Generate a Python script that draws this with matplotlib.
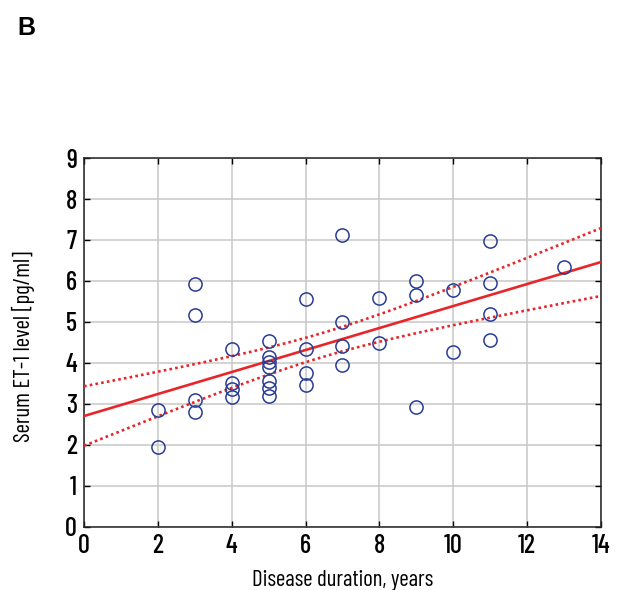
import numpy as np
import matplotlib as mpl
mpl.use('Agg')
import matplotlib.pyplot as plt

mpl.rcParams['font.family'] = ['Barlow Condensed', 'DejaVu Sans']
mpl.rcParams['font.size'] = 16.5
mpl.rcParams['font.weight'] = 500

# disease duration (years) and serum ET-1 level
duration = [2, 2,
            3, 3, 3, 3,
            4, 4, 4, 4,
            5, 5, 5, 5, 5, 5, 5,
            6, 6, 6, 6,
            7, 7, 7, 7,
            8, 8,
            9, 9, 9,
            10, 10,
            11, 11, 11, 11,
            13]
et1 = [1.95, 2.85,
       5.92, 5.17, 3.10, 2.80,
       4.35, 3.50, 3.36, 3.17,
       4.53, 4.15, 4.03, 3.90, 3.55, 3.38, 3.20,
       5.55, 4.33, 3.76, 3.47,
       7.12, 5.00, 4.42, 3.96,
       5.58, 4.48,
       6.00, 5.66, 2.93,
       5.79, 4.28,
       6.98, 5.95, 5.19, 4.55,
       6.35]

x = np.array(duration, dtype=float)
y = np.array(et1)

# linear fit with 95% confidence band
n = len(x)
slope, icept = np.polyfit(x, y, 1)
xs = np.linspace(0, 14, 200)
fit = icept + slope * xs
resid = y - (icept + slope * x)
s = np.sqrt(np.sum(resid ** 2) / (n - 2))
t = 1.8
se = s * np.sqrt(1.0 / n + (xs - x.mean()) ** 2 / np.sum((x - x.mean()) ** 2))

fig = plt.figure(figsize=(6.27, 5.90), dpi=100)
ax = fig.add_axes([0.134, 0.1068, 0.8245, 0.6254])

ax.plot(xs, fit, color='#e8262a', lw=1.9, zorder=3)
ax.plot(xs, fit + t * se, color='#e8262a', lw=1.9, ls=(0, (1, 1.2)), zorder=3)
ax.plot(xs, fit - t * se, color='#e8262a', lw=1.9, ls=(0, (1, 1.2)), zorder=3)
ax.plot(x, y, 'o', mfc='none', mec='#283c94', mew=1.1, ms=9.5, zorder=4)

ax.set_xlim(0, 14)
ax.set_ylim(0, 9)
ax.set_xticks(range(0, 15, 2))
ax.set_yticks(range(0, 10))
ax.grid(True, color='#c8c8c8', lw=1.1)
ax.set_axisbelow(True)
ax.tick_params(direction='in', top=True, right=True, length=4, width=1,
               pad=5, labelsize=19)
for sp in ax.spines.values():
    sp.set_linewidth(1.1)
    sp.set_color('#222222')

ax.set_xlabel('Disease duration, years', labelpad=9)
ax.set_ylabel('Serum ET-1 level [pg/ml]')
ax.yaxis.set_label_coords(-0.095, 0.49)

fig.text(0.027, 0.94, 'B', fontsize=18, fontweight='bold',
         family=['Liberation Sans', 'DejaVu Sans'])

fig.savefig('out.png', dpi=100)
